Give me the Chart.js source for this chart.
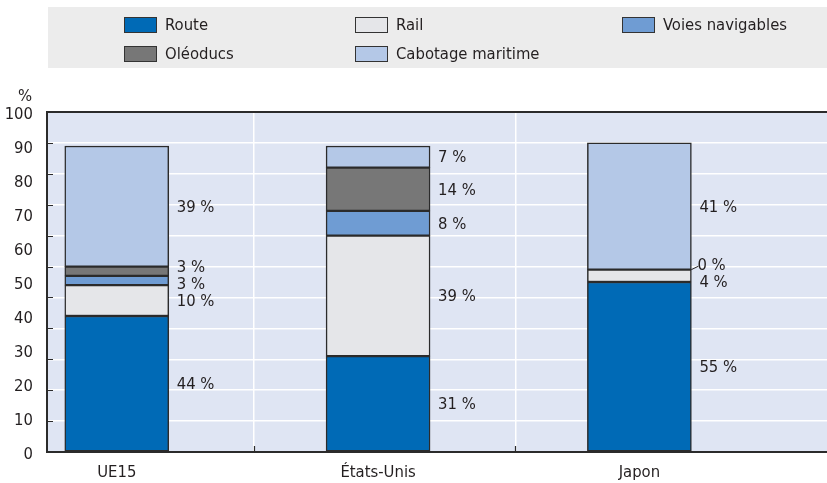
<!DOCTYPE html>
<html lang="fr">
<head>
<meta charset="utf-8">
<title>Répartition modale du fret</title>
<script src="https://cdn.jsdelivr.net/npm/chart.js@4.4.1/dist/chart.umd.min.js"></script>
<style>
  html, body { margin: 0; padding: 0; background: #ffffff; }
  #wrap { position: relative; width: 827px; height: 483px; }
</style>
</head>
<body>
<div id="wrap"><canvas id="modeChart"></canvas></div>
<script>
'use strict';

// ---------- data ----------
const categories = ['UE15', 'États-Unis', 'Japon'];
const seriesNames = ['Route', 'Rail', 'Voies navigables', 'Oléoducs', 'Cabotage maritime'];
const route = [44, 31, 55];
const rail = [10, 39, 4];
const waterways = [3, 8, 0];
const pipelines = [3, 14, null];
const coastal = [39, 7, 41];
const yTickLabels = [0, 10, 20, 30, 40, 50, 60, 70, 80, 90, 100];
const unitLabel = '%';

// ---------- look ----------
const seriesColors = ['#006ab6', '#e5e6e9', '#6f9cd3', '#777777', '#b4c8e7'];
const inkColor = '#231f20';
const plotBg = '#dfe5f3';
const legendBg = '#ececec';
const fontFamily = "'Liberation Sans Narrow', 'DejaVu Sans Condensed', sans-serif";
const fontSize = 16.5;

Chart.defaults.font.family = fontFamily;
Chart.defaults.font.size = fontSize;
Chart.defaults.color = inkColor;

const allSeries = [route, rail, waterways, pipelines, coastal];

const datasets = allSeries.map((values, s) => ({
  label: seriesNames[s],
  data: values.map((v, i) => ({ x: i, y: v })),
  backgroundColor: seriesColors[s],
  borderColor: '#2b2b2b',
  borderWidth: 1.5,
  borderSkipped: false,
  barThickness: 104
}));

// divider positions between the country columns
const dividerShift = 0.025;
const xTickValues = categories.flatMap((c, i) =>
  i < categories.length - 1 ? [i, i + 0.5 + dividerShift] : [i]);

// plot background, legend box and unit label
const framePlugin = {
  id: 'frame',
  beforeDraw(chart) {
    const ctx = chart.ctx;
    const a = chart.chartArea;
    ctx.save();
    ctx.fillStyle = plotBg;
    ctx.fillRect(a.left, a.top, a.right - a.left, a.bottom - a.top);

    // legend
    ctx.fillStyle = legendBg;
    ctx.fillRect(48, 7, chart.width - 48, 61);
    const cols = [124, 355, 622];
    const rows = [25, 54];
    ctx.font = fontSize + 'px ' + fontFamily;
    ctx.textBaseline = 'middle';
    ctx.textAlign = 'left';
    chart.data.datasets.forEach((ds, k) => {
      const x = cols[k % 3];
      const y = rows[Math.floor(k / 3)];
      ctx.fillStyle = ds.backgroundColor;
      ctx.fillRect(x, y - 8, 33, 16);
      ctx.strokeStyle = '#333333';
      ctx.lineWidth = 1;
      ctx.strokeRect(x + 0.5, y - 7.5, 32, 15);
      ctx.fillStyle = inkColor;
      ctx.fillText(ds.label, x + 41, y + 1);
    });

    // unit above the value axis
    ctx.textAlign = 'center';
    ctx.fillText(unitLabel, 25, 97);
    ctx.restore();
  },
  afterDraw(chart) {
    const ctx = chart.ctx;
    const a = chart.chartArea;
    const yScale = chart.scales.y;
    const xScale = chart.scales.x;
    ctx.save();
    ctx.strokeStyle = '#2b2b2b';
    // top frame line
    ctx.lineWidth = 2;
    ctx.beginPath();
    ctx.moveTo(a.left, a.top);
    ctx.lineTo(a.right, a.top);
    ctx.stroke();
    // small inner tick marks
    ctx.lineWidth = 1.2;
    ctx.beginPath();
    yScale.ticks.forEach(t => {
      const py = Math.round(yScale.getPixelForValue(t.value)) + 0.5;
      ctx.moveTo(a.left, py);
      ctx.lineTo(a.left + 6, py);
    });
    xScale.ticks.forEach(t => {
      if (Number.isInteger(t.value)) return;
      const px = Math.round(xScale.getPixelForValue(t.value)) + 0.5;
      ctx.moveTo(px, a.bottom);
      ctx.lineTo(px, a.bottom - 6);
    });
    ctx.stroke();
    ctx.restore();
  }
};

// "nn %" labels to the right of each segment, spread apart when crowded
const valueLabelPlugin = {
  id: 'valueLabels',
  afterDatasetsDraw(chart) {
    const ctx = chart.ctx;
    const gap = 17;
    ctx.save();
    ctx.font = fontSize + 'px ' + fontFamily;
    ctx.fillStyle = inkColor;
    ctx.textBaseline = 'middle';
    ctx.textAlign = 'left';
    categories.forEach((cat, i) => {
      const items = [];
      chart.data.datasets.forEach((ds, s) => {
        const v = allSeries[s][i];
        if (v == null) return;
        const bar = chart.getDatasetMeta(s).data[i];
        items.push({
          text: v + ' %',
          y: (bar.y + bar.base) / 2,
          edgeY: bar.y,
          right: bar.x + bar.width / 2,
          zero: v === 0
        });
      });
      items.sort((p, q) => p.y - q.y);
      for (let pass = 0; pass < 30; pass++) {
        for (let k = 1; k < items.length; k++) {
          const d = items[k].y - items[k - 1].y;
          if (d < gap) {
            const push = (gap - d) / 2;
            items[k - 1].y -= push;
            items[k].y += push;
          }
        }
      }
      items.forEach(it => {
        let tx = it.right + 8;
        if (it.zero) {
          ctx.strokeStyle = inkColor;
          ctx.lineWidth = 1;
          ctx.beginPath();
          ctx.moveTo(it.right, it.edgeY);
          ctx.lineTo(it.right + 7, it.y + 2);
          ctx.stroke();
          tx = it.right + 6;
        }
        ctx.fillText(it.text, tx, it.y + 1);
      });
    });
    ctx.restore();
  }
};

const chartConfig = {
  type: 'bar',
  data: { datasets: datasets },
  plugins: [framePlugin, valueLabelPlugin],
  options: {
    responsive: true,
    maintainAspectRatio: false,
    animation: false,
    layout: { padding: { top: 112, left: 0, right: 0, bottom: 0 } },
    plugins: {
      legend: { display: false },
      tooltip: { enabled: false }
    },
    scales: {
      x: {
        type: 'linear',
        stacked: true,
        offset: false,
        min: -0.267,
        max: 2.718,
        afterBuildTicks(scale) {
          scale.ticks = xTickValues.map(v => ({ value: v }));
        },
        afterFit(scale) { scale.height = 31; },
        ticks: {
          autoSkip: false,
          maxRotation: 0,
          padding: 11,
          callback: v => Number.isInteger(v) ? categories[v] : ''
        },
        grid: {
          offset: false,
          drawTicks: false,
          lineWidth: 1.5,
          color: c => (c.tick && !Number.isInteger(c.tick.value)) ? '#ffffff' : 'rgba(0,0,0,0)'
        },
        border: { display: true, color: '#2b2b2b', width: 2 }
      },
      y: {
        stacked: true,
        min: 0,
        max: 110,
        weight: 0,
        ticks: { display: false, stepSize: 10 },
        afterFit(scale) { scale.width = 0; },
        grid: { color: '#ffffff', lineWidth: 1.5, drawTicks: false },
        border: { display: true, color: '#2b2b2b', width: 2 }
      },
      yLab: {
        position: 'left',
        weight: 1,
        min: 0,
        max: 100,
        afterBuildTicks(scale) {
          scale.ticks = yTickLabels.map(v => ({ value: v }));
        },
        afterFit(scale) { scale.width = 47; },
        ticks: { padding: 14, labelOffset: 3 },
        grid: { display: false, drawTicks: false },
        border: { display: false }
      }
    }
  }
};

const ctx = document.getElementById('modeChart').getContext('2d');
const modeChart = new Chart(ctx, chartConfig);
</script>
</body>
</html>
